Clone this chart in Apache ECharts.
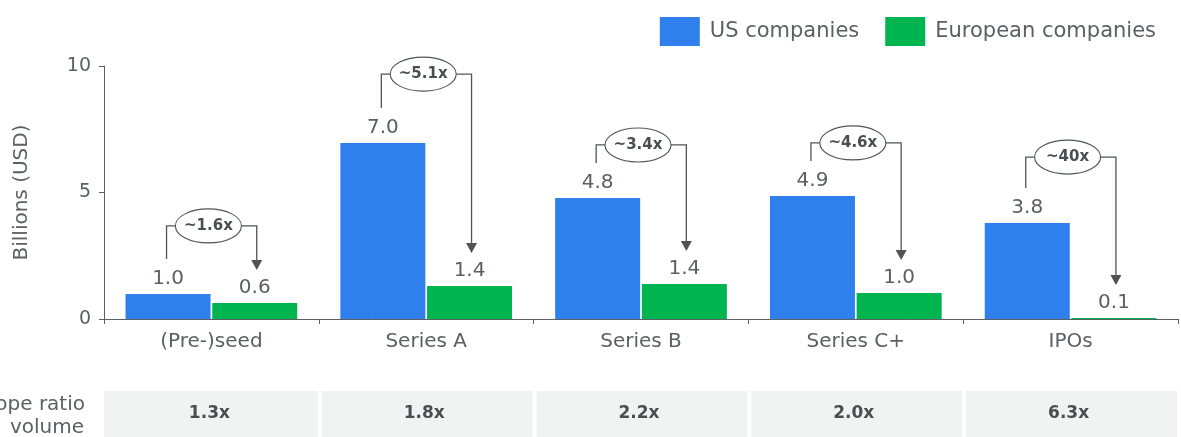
<!DOCTYPE html>
<html><head><meta charset="utf-8">
<script src="https://cdn.jsdelivr.net/npm/echarts@6/dist/echarts.min.js"></script>
<style>html,body{margin:0;padding:0;background:#fff}#c{width:1181px;height:437px}</style>
</head><body><div id="c"></div>
<script>
const categories = ['(Pre-)seed', 'Series A', 'Series B', 'Series C+', 'IPOs'];
const usValues = [0.99, 6.96, 4.78, 4.86, 3.79];
const euValues = [0.63, 1.30, 1.38, 1.03, 0.04];
const usLabels = ['1.0', '7.0', '4.8', '4.9', '3.8'];
const euLabels = ['0.6', '1.4', '1.4', '1.0', '0.1'];
const multiples = ['~1.6x', '~5.1x', '~3.4x', '~4.6x', '~40x'];
const bracketLevels = [3.68, 9.68, 6.88, 6.96, 6.40];
const ratios = ['1.3x', '1.8x', '2.2x', '2.0x', '6.3x'];
const ratioLabel = ['US/Europe ratio', 'volume'];
const yTicks = [0, 5, 10];

const FONT = '"DejaVu Sans"';
const GRAY = '#5c6064';
const DARK = '#4a4e52';
const BLUE = '#2f7fed';
const GREEN = '#00b44f';

const chart = echarts.init(document.getElementById('c'), null, {renderer: 'canvas'});
const BW = 85;
const option = {
  animation: false,
  textStyle: {fontFamily: FONT},
  legend: {
    right: 20, top: 12, itemWidth: 40, itemHeight: 29, itemGap: 26,
    icon: 'rect',
    textStyle: {fontSize: 21, color: GRAY, fontFamily: FONT, padding: [0, 0, 0, 5]},
    data: ['US companies', 'European companies']
  },
  grid: {left: 104, right: 3, top: 66, bottom: 118, containLabel: false, outerBoundsMode: 'none'},
  xAxis: {
    type: 'category', data: categories,
    axisLine: {lineStyle: {color: GRAY, width: 1}},
    axisTick: {show: true, length: 5, lineStyle: {color: GRAY}},
    axisLabel: {fontSize: 20, color: GRAY, margin: 13, fontFamily: FONT}
  },
  yAxis: {
    type: 'value', min: 0, max: 10, interval: 5,
    name: 'Billions (USD)', nameLocation: 'middle', nameGap: 72, nameRotate: 90,
    nameTextStyle: {fontSize: 20, color: GRAY, fontFamily: FONT},
    axisLine: {show: true, lineStyle: {color: GRAY, width: 1}},
    axisTick: {show: true, length: 5, lineStyle: {color: GRAY}},
    splitLine: {show: false},
    axisLabel: {fontSize: 19, color: GRAY, margin: 13, fontFamily: FONT,
      formatter: v => yTicks.includes(v) ? String(v) : ''}
  },
  series: [
    {name: 'US companies', type: 'bar', data: usValues, barWidth: BW, barGap: '2%',
     itemStyle: {color: BLUE},
     label: {show: true, position: 'top', distance: 5, fontSize: 20, color: GRAY, fontFamily: FONT,
       formatter: p => usLabels[p.dataIndex]}},
    {name: 'European companies', type: 'bar', data: euValues, barWidth: BW,
     itemStyle: {color: GREEN},
     label: {show: true, position: 'top', distance: 5, fontSize: 20, color: GRAY, fontFamily: FONT,
       formatter: p => euLabels[p.dataIndex]}}
  ]
};
chart.setOption(option);

function build() {
  const g = [];
  const px = (i, v) => chart.convertToPixel({gridIndex: 0}, [i, v]);
  const band = px(1, 0)[0] - px(0, 0)[0];
  const half = (BW + BW * 0.02) / 2;
  const lineStyle = {stroke: '#505457', lineWidth: 1.3, fill: null};
  categories.forEach((c, i) => {
    const cx = px(i, 0)[0];
    const usX = cx - half - 1.5;
    const euX = cx + half + 2;
    const usTop = px(i, usValues[i])[1];
    const euTop = px(i, euValues[i])[1];
    const by = px(i, bracketLevels[i])[1];
    const ex = cx - 3, rx = 33, ry = 17;
    g.push({type: 'polyline', shape: {points: [[usX, usTop - 35], [usX, by], [ex - rx, by]]}, style: lineStyle, z: 10});
    const tip = euTop - 33;
    g.push({type: 'polyline', shape: {points: [[ex + rx, by], [euX, by], [euX, tip - 9]]}, style: lineStyle, z: 10});
    g.push({type: 'polygon', shape: {points: [[euX - 5.5, tip - 10], [euX + 5.5, tip - 10], [euX, tip]]}, style: {fill: '#505457'}, z: 10});
    g.push({type: 'ellipse', shape: {cx: ex, cy: by, rx: rx, ry: ry}, style: {fill: '#fff', stroke: '#505457', lineWidth: 1.1}, z: 11});
    g.push({type: 'text', x: ex, y: by, z: 12, style: {text: multiples[i], fill: DARK, font: 'bold 15px ' + FONT, align: 'center', verticalAlign: 'middle'}});
    const left = cx - band / 2, right = cx + band / 2;
    const x0 = i === 0 ? left : left + 3;
    g.push({type: 'rect', shape: {x: x0, y: 391, width: right - 1 - x0, height: 46}, style: {fill: '#f1f3f2'}, z: 1});
    g.push({type: 'text', x: cx - 2, y: 414, z: 2, style: {text: ratios[i], fill: DARK, font: 'bold 17px ' + FONT, align: 'center', verticalAlign: 'middle'}});
  });
  g.push({type: 'text', x: 85, y: 405, style: {text: ratioLabel[0], fill: GRAY, font: '20px ' + FONT, align: 'right', verticalAlign: 'middle'}});
  g.push({type: 'text', x: 84, y: 428, style: {text: ratioLabel[1], fill: GRAY, font: '20px ' + FONT, align: 'right', verticalAlign: 'middle'}});
  chart.setOption({graphic: {elements: g}});
}
build();
</script>
</body></html>
